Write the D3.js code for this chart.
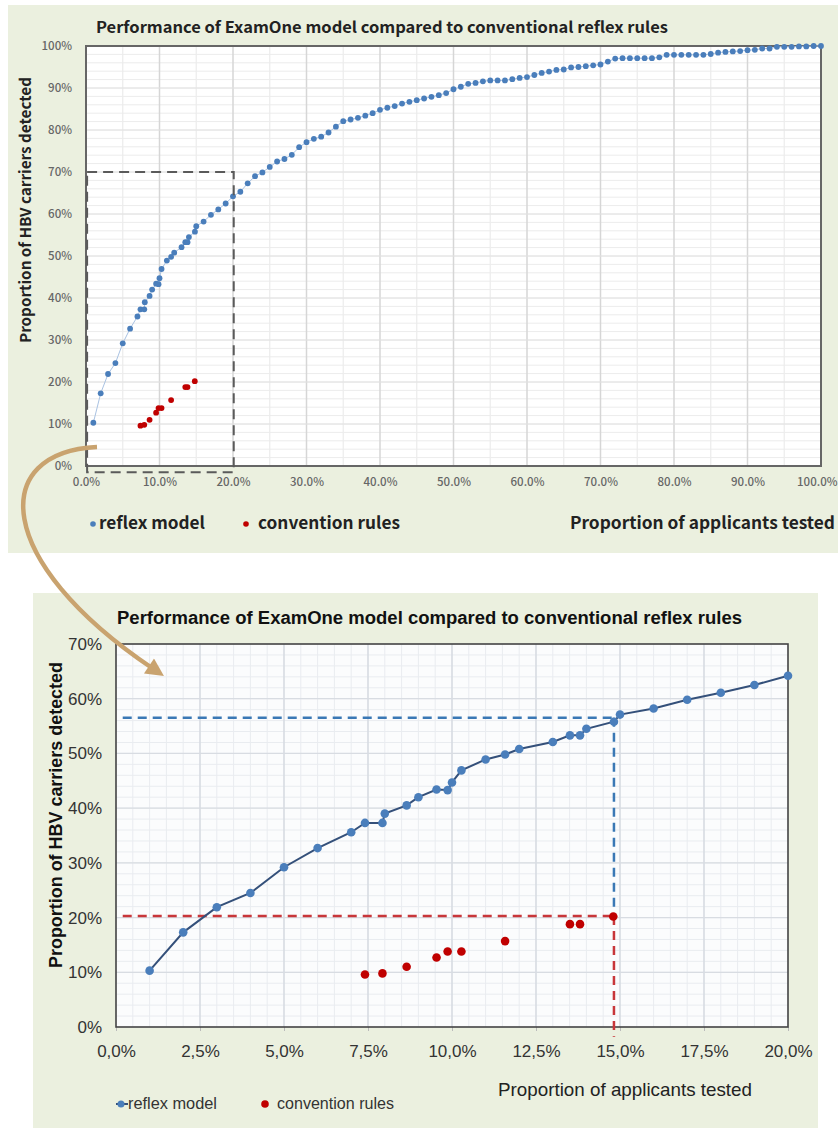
<!DOCTYPE html>
<html><head><meta charset="utf-8">
<script src="https://cdn.jsdelivr.net/npm/d3@7"></script>
<style>html,body{margin:0;padding:0;background:#fff;}svg{display:block;}</style>
</head><body>
<svg id="c" width="838" height="1128"></svg>
<script>
// ---------- data ----------
const titleText = "Performance of ExamOne model compared to conventional reflex rules";
const yTitle = "Proportion of HBV carriers detected";
const xTitle = "Proportion of applicants tested";
const legendLabels = ["reflex model", "convention rules"];

// reflex model: proportion of applicants tested (%) -> carriers detected (%)
const reflexX = [1,2,3,4,5,6,7,7.41,7.93,8,8.65,9,9.54,9.87,10,10.28,11,11.58,12,13,13.51,13.81,14,14.82,15,16,17,18,19,20,
  21,22,23,24,25,26,27,28,29,30,31,32,33,34,35,36,37,38,39,40,41,42,43,44,45,46,47,48,49,50,
  51,52,53,54,55,56,57,58,59,60,61,62,63,64,65,66,67,68,69,70,71,72,73,74,75,76,77,78,79,80,
  81,82,83,84,85,86,87,88,89,90,91,92,93,94,95,96,97,98,99,100];
const reflexY = [10.3,17.3,21.9,24.5,29.2,32.7,35.6,37.3,37.3,39.0,40.5,42.0,43.4,43.3,44.7,46.9,48.9,49.8,50.8,52.1,53.3,53.3,54.5,55.8,57.1,58.2,59.8,61.1,62.5,64.2,
  65.3,67.3,69.0,69.9,71.2,72.5,73.1,74.1,75.9,77.1,77.9,78.4,79.4,80.8,82.1,82.5,82.9,83.4,84.0,84.8,85.3,85.7,86.3,86.7,87.1,87.5,87.9,88.3,88.8,89.7,
  90.3,91.0,91.2,91.6,91.8,91.8,91.8,92.1,92.4,92.6,93.1,93.6,93.9,94.3,94.4,94.9,95.0,95.2,95.4,95.6,96.3,97.0,97.1,97.1,97.1,97.1,97.1,97.3,97.9,97.9,
  97.9,97.9,97.9,97.9,98.1,98.4,98.6,98.7,98.8,99.0,99.1,99.4,99.4,99.8,99.8,99.8,99.9,99.9,100,100];

// conventional reflex rules
const convX = [7.41,7.93,8.65,9.54,9.87,10.28,11.58,13.51,13.81,14.8];
const convY = [9.6,9.8,11.0,12.7,13.8,13.8,15.7,18.8,18.8,20.2];

// reference levels (zoomed chart)
const refX = 14.82;
const refReflexY = 56.5;
const refConvY = 20.3;

// zoom window of the overview
const zoomWinX = [0.15, 20.1];
const zoomWinY = [-1.5, 70];

// ticks
const topXTicks = d3.range(0, 101, 10);
const topYTicks = d3.range(0, 101, 10);
const botXTicks = d3.range(0, 20.01, 2.5);
const botYTicks = d3.range(0, 71, 10);

const reflex = reflexX.map((x,i)=>({x:x/100, y:reflexY[i]/100}));
const conv = convX.map((x,i)=>({x:x/100, y:convY[i]/100}));

const svg = d3.select("#c");
const BG = "#ebf0df";
const BLUE = "#4a7ebb";
const RED = "#c00000";

// arrow marker
const defs = svg.append("defs");
defs.append("marker").attr("id","ah").attr("viewBox","0 0 10 10").attr("refX",2).attr("refY",5)
  .attr("markerWidth",4.6).attr("markerHeight",4).attr("orient","auto").attr("markerUnits","strokeWidth")
  .append("path").attr("d","M0,0 L10,5 L0,10 Z").attr("fill","#c9a36f");

// ================= TOP CHART =================
svg.append("rect").attr("x",8).attr("y",5).attr("width",830).attr("height",548).attr("fill",BG);
const tx = d3.scaleLinear().domain([0,1]).range([86,821]);
const ty = d3.scaleLinear().domain([0,1]).range([466,46]);
const topG = svg.append("g");
topG.append("rect").attr("x",86).attr("y",46).attr("width",735).attr("height",420).attr("fill","#fff");
// minor grid
topG.append("g").selectAll("line").data(d3.range(0,1.0001,0.02)).join("line")
  .attr("x1",86).attr("x2",821).attr("y1",d=>ty(d)).attr("y2",d=>ty(d)).attr("stroke","#ececec").attr("stroke-width",1);
topG.append("g").selectAll("line").data(d3.range(0.05,1,0.1)).join("line")
  .attr("y1",46).attr("y2",466).attr("x1",d=>tx(d)).attr("x2",d=>tx(d)).attr("stroke","#ececec").attr("stroke-width",1.2);
// major grid
topG.append("g").selectAll("line").data(topXTicks.slice(1,-1)).join("line")
  .attr("y1",46).attr("y2",466).attr("x1",d=>tx(d/100)).attr("x2",d=>tx(d/100)).attr("stroke","#d6d6d6").attr("stroke-width",1.5);
topG.append("g").selectAll("line").data(topYTicks.slice(1,-1)).join("line")
  .attr("x1",86).attr("x2",821).attr("y1",d=>ty(d/100)).attr("y2",d=>ty(d/100)).attr("stroke","#e2e2e2").attr("stroke-width",1.2);
topG.append("rect").attr("x",86).attr("y",46).attr("width",735).attr("height",420)
  .attr("fill","none").attr("stroke","#666").attr("stroke-width",2);
// axes
const topXAxis = d3.axisBottom(tx).tickValues(topXTicks.map(d=>d/100)).tickFormat(d3.format(".1%")).tickSize(0).tickPadding(12);
const topYAxis = d3.axisLeft(ty).tickValues(topYTicks.map(d=>d/100)).tickFormat(d3.format(".0%")).tickSize(0).tickPadding(14);
const gx = topG.append("g").attr("transform","translate(0,466)").call(topXAxis);
const gy = topG.append("g").attr("transform","translate(86,0)").call(topYAxis);
[gx,gy].forEach(g=>{g.select(".domain").remove();
  g.selectAll("text").attr("font-family","'Noto Sans CJK JP','Noto Sans',sans-serif").attr("font-size",11.5).attr("fill","#666").attr("font-weight",500);});
// keep the last x label inside the canvas
gx.selectAll(".tick").filter(d=>d===1).select("text").attr("text-anchor","end").attr("x",16);
// line + dots
topG.append("path").datum(reflex).attr("fill","none").attr("stroke","#a9c2e2").attr("stroke-width",1)
  .attr("d",d3.line().x(d=>tx(d.x)).y(d=>ty(d.y)));
topG.append("g").selectAll("circle").data(reflex).join("circle")
  .attr("cx",d=>tx(d.x)).attr("cy",d=>ty(d.y)).attr("r",2.9).attr("fill",BLUE);
topG.append("g").selectAll("circle").data(conv).join("circle")
  .attr("cx",d=>tx(d.x)).attr("cy",d=>ty(d.y)).attr("r",2.9).attr("fill",RED);
// zoom window
topG.append("rect").attr("x",tx(zoomWinX[0]/100)).attr("y",ty(zoomWinY[1]/100))
  .attr("width",tx(zoomWinX[1]/100)-tx(zoomWinX[0]/100)).attr("height",ty(zoomWinY[0]/100)-ty(zoomWinY[1]/100))
  .attr("fill","none").attr("stroke","#5a5a5a").attr("stroke-width",2).attr("stroke-dasharray","10,6");
// titles
const topFont = "'Noto Sans CJK JP','Noto Sans',sans-serif";
topG.append("text").attr("x",96).attr("y",33).text(titleText).attr("font-family",topFont).attr("font-weight",700)
  .attr("font-size",15.5).attr("fill","#222").attr("textLength",572).attr("lengthAdjust","spacingAndGlyphs");
topG.append("text").attr("transform","translate(31,210) rotate(-90)").attr("text-anchor","middle").text(yTitle)
  .attr("font-family",topFont).attr("font-weight",700).attr("font-size",15).attr("fill","#222")
  .attr("textLength",266).attr("lengthAdjust","spacingAndGlyphs");
topG.append("text").attr("x",835).attr("y",529).attr("text-anchor","end").text(xTitle)
  .attr("font-family",topFont).attr("font-weight",700).attr("font-size",17).attr("fill","#222")
  .attr("textLength",265).attr("lengthAdjust","spacingAndGlyphs");
// legend
topG.append("circle").attr("cx",93).attr("cy",524).attr("r",2.8).attr("fill",BLUE);
topG.append("text").attr("x",99).attr("y",529).text(legendLabels[0]).attr("font-family",topFont).attr("font-weight",700)
  .attr("font-size",17).attr("fill","#222").attr("textLength",106).attr("lengthAdjust","spacingAndGlyphs");
topG.append("circle").attr("cx",246).attr("cy",524).attr("r",2.8).attr("fill",RED);
topG.append("text").attr("x",258).attr("y",529).text(legendLabels[1]).attr("font-family",topFont).attr("font-weight",700)
  .attr("font-size",17).attr("fill","#222").attr("textLength",142).attr("lengthAdjust","spacingAndGlyphs");

// ================= BOTTOM CHART =================
svg.append("rect").attr("x",33).attr("y",593).attr("width",785).attr("height",535).attr("fill",BG);
const bx = d3.scaleLinear().domain([0,0.2]).range([116,788]);
const by = d3.scaleLinear().domain([0,0.7]).range([1027,644]);
const botG = svg.append("g");
botG.append("rect").attr("x",116).attr("y",644).attr("width",672).attr("height",383).attr("fill","#fbfcfd");
botG.append("g").selectAll("line").data(d3.range(0,0.2001,0.005)).join("line")
  .attr("y1",644).attr("y2",1027).attr("x1",d=>bx(d)).attr("x2",d=>bx(d)).attr("stroke","#e9ecf0").attr("stroke-width",1);
botG.append("g").selectAll("line").data(d3.range(0,0.7001,0.02)).join("line")
  .attr("x1",116).attr("x2",788).attr("y1",d=>by(d)).attr("y2",d=>by(d)).attr("stroke","#e9ecf0").attr("stroke-width",1);
botG.append("g").selectAll("line").data(botXTicks.slice(1,-1)).join("line")
  .attr("y1",644).attr("y2",1027).attr("x1",d=>bx(d/100)).attr("x2",d=>bx(d/100)).attr("stroke","#d3d8df").attr("stroke-width",1.3);
botG.append("g").selectAll("line").data(botYTicks.slice(1,-1)).join("line")
  .attr("x1",116).attr("x2",788).attr("y1",d=>by(d/100)).attr("y2",d=>by(d/100)).attr("stroke","#d8dce2").attr("stroke-width",1.3);
// axes
const commaFmt = d=>d3.format(".1%")(d).replace(".",",");
const bXAxis = d3.axisBottom(bx).tickValues(botXTicks.map(d=>d/100)).tickFormat(commaFmt).tickSize(4).tickPadding(14);
const bYAxis = d3.axisLeft(by).tickValues(botYTicks.map(d=>d/100)).tickFormat(d3.format(".0%")).tickSize(0).tickPadding(14);
const bgx = botG.append("g").attr("transform","translate(0,1027)").call(bXAxis);
const bgy = botG.append("g").attr("transform","translate(116,0)").call(bYAxis);
[bgx,bgy].forEach(g=>{g.select(".domain").remove();
  g.selectAll("line").attr("stroke","#bbb");
  g.selectAll("text").attr("font-family","'Liberation Sans',Arial,sans-serif").attr("font-size",17).attr("fill","#333");});
botG.append("rect").attr("x",116).attr("y",644).attr("width",672).attr("height",383)
  .attr("fill","none").attr("stroke","#444").attr("stroke-width",1.6);
// reference dashed lines
const dash = "9,6";
botG.append("line").attr("x1",bx(0.002)).attr("x2",bx(refX/100)).attr("y1",by(refReflexY/100)).attr("y2",by(refReflexY/100))
  .attr("stroke","#3a78b5").attr("stroke-width",2.5).attr("stroke-dasharray",dash);
botG.append("line").attr("x1",bx(refX/100)).attr("x2",bx(refX/100)).attr("y1",by(refReflexY/100)).attr("y2",by(0.215))
  .attr("stroke","#3a78b5").attr("stroke-width",2.5).attr("stroke-dasharray",dash);
botG.append("line").attr("x1",bx(0.002)).attr("x2",bx(refX/100)).attr("y1",by(refConvY/100)).attr("y2",by(refConvY/100))
  .attr("stroke","#c8363a").attr("stroke-width",2.5).attr("stroke-dasharray",dash);
botG.append("line").attr("x1",bx(refX/100)).attr("x2",bx(refX/100)).attr("y1",by(refConvY/100)).attr("y2",by(-0.018))
  .attr("stroke","#c8363a").attr("stroke-width",2.5).attr("stroke-dasharray",dash);
// series
const zoomReflex = reflex.filter(d=>d.x<=0.2001);
botG.append("path").datum(zoomReflex).attr("fill","none").attr("stroke","#34507a").attr("stroke-width",2)
  .attr("d",d3.line().x(d=>bx(d.x)).y(d=>by(d.y)));
botG.append("g").selectAll("circle").data(zoomReflex).join("circle")
  .attr("cx",d=>bx(d.x)).attr("cy",d=>by(d.y)).attr("r",4.3).attr("fill",BLUE);
botG.append("g").selectAll("circle").data(conv).join("circle")
  .attr("cx",d=>bx(d.x)).attr("cy",d=>by(d.y)).attr("r",4.3).attr("fill",RED);
// titles
const botFont = "'Liberation Sans',Arial,sans-serif";
botG.append("text").attr("x",117).attr("y",624).text(titleText).attr("font-family",botFont).attr("font-weight",700)
  .attr("font-size",18).attr("fill","#111").attr("textLength",625).attr("lengthAdjust","spacingAndGlyphs");
botG.append("text").attr("transform","translate(62,815) rotate(-90)").attr("text-anchor","middle").text(yTitle)
  .attr("font-family",botFont).attr("font-weight",700).attr("font-size",18).attr("fill","#111")
  .attr("textLength",306).attr("lengthAdjust","spacingAndGlyphs");
botG.append("text").attr("x",498).attr("y",1096).text(xTitle).attr("font-family",botFont)
  .attr("font-size",19).attr("fill","#222").attr("textLength",254).attr("lengthAdjust","spacingAndGlyphs");
// legend
botG.append("line").attr("x1",116).attr("x2",128).attr("y1",1104).attr("y2",1104).attr("stroke","#34507a").attr("stroke-width",2);
botG.append("circle").attr("cx",121).attr("cy",1104).attr("r",3.5).attr("fill",BLUE);
botG.append("text").attr("x",128).attr("y",1109).text(legendLabels[0]).attr("font-family",botFont).attr("font-size",16)
  .attr("fill","#333").attr("textLength",89).attr("lengthAdjust","spacingAndGlyphs");
botG.append("circle").attr("cx",265).attr("cy",1104).attr("r",3.8).attr("fill",RED);
botG.append("text").attr("x",277).attr("y",1109).text(legendLabels[1]).attr("font-family",botFont).attr("font-size",16)
  .attr("fill","#333").attr("textLength",117).attr("lengthAdjust","spacingAndGlyphs");

// ================= connecting arrow =================
svg.append("path").attr("d","M97,447 C-10,452 -8,560 152,668").attr("fill","none")
  .attr("stroke","#c9a36f").attr("stroke-width",4.5).attr("marker-end","url(#ah)");
</script>
</body></html>
